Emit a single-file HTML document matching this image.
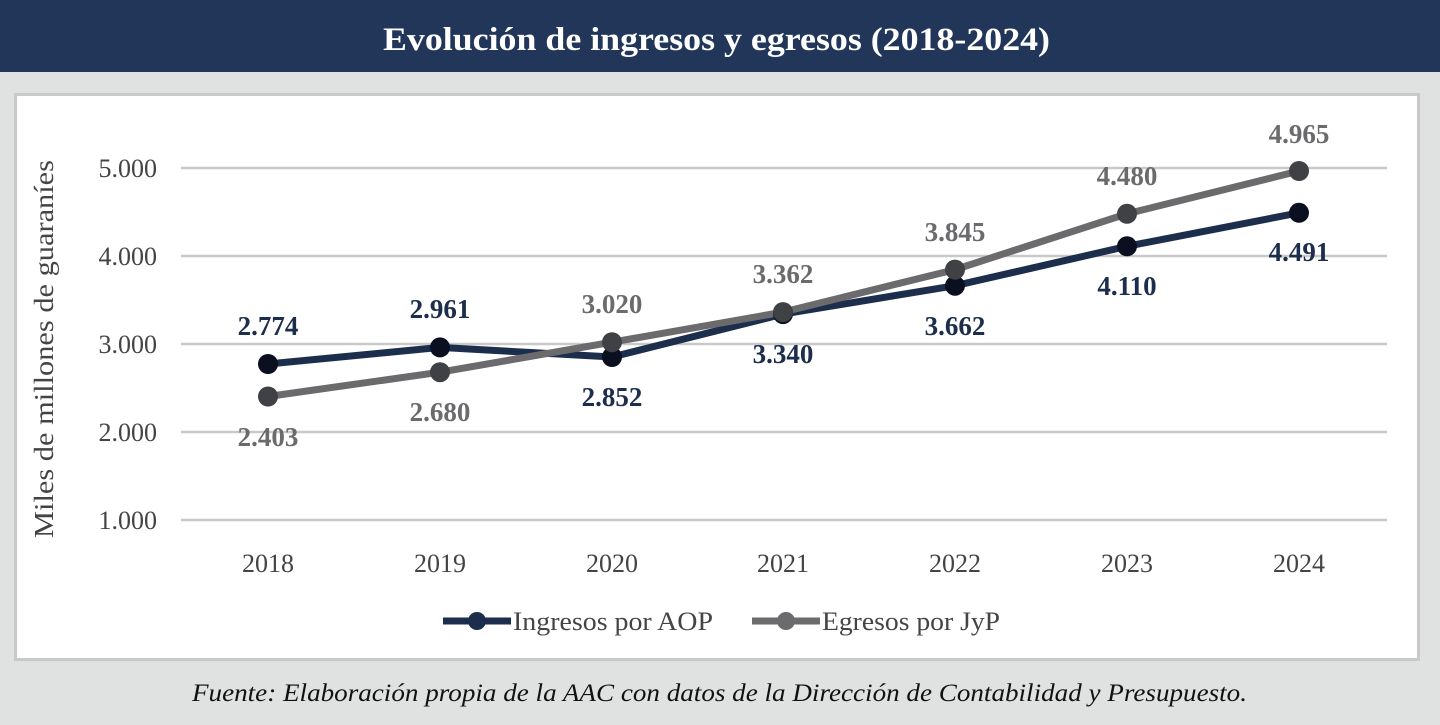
<!DOCTYPE html>
<html><head><meta charset="utf-8"><style>
html,body{margin:0;padding:0;width:1440px;height:725px;overflow:hidden;background:#e0e2e1;}
svg{display:block;font-family:"Liberation Serif",serif;}
</style></head><body>
<svg width="1440" height="725" viewBox="0 0 1440 725">
<rect x="0" y="0" width="1440" height="725" fill="#e0e2e1"/>
<rect x="0" y="0" width="1440" height="72" fill="#22365a"/>
<text x="383" y="50" font-size="33" font-weight="bold" fill="#fff" textLength="667" lengthAdjust="spacingAndGlyphs">Evolución de ingresos y egresos (2018-2024)</text>
<rect x="15.5" y="94.5" width="1403" height="565" fill="#fff" stroke="#c8c9c8" stroke-width="3"/>
<g stroke="#c9c9c9" stroke-width="2.5">
<line x1="181" y1="168" x2="1387" y2="168"/>
<line x1="181" y1="256" x2="1387" y2="256"/>
<line x1="181" y1="344" x2="1387" y2="344"/>
<line x1="181" y1="432" x2="1387" y2="432"/>
<line x1="181" y1="520" x2="1387" y2="520"/>
</g>
<g font-size="26" fill="#444" text-anchor="end">
<text x="157" y="177">5.000</text><text x="157" y="265">4.000</text><text x="157" y="353">3.000</text><text x="157" y="441">2.000</text><text x="157" y="529">1.000</text>
</g>
<text transform="translate(53,160) rotate(-90)" x="-378" y="0" font-size="27" fill="#444" textLength="378" lengthAdjust="spacingAndGlyphs">Miles de millones de guaraníes</text>
<g font-size="26" fill="#444" text-anchor="middle">
<text x="268" y="572">2018</text><text x="440" y="572">2019</text><text x="612" y="572">2020</text><text x="783" y="572">2021</text><text x="955" y="572">2022</text><text x="1127" y="572">2023</text><text x="1299" y="572">2024</text>
</g>
<polyline points="268,364 440,347.4 612,357 783,314.1 955,285.7 1127,246.3 1299,212.8" fill="none" stroke="#1c2e4c" stroke-width="7"/>
<polyline points="268,396.5 440,372.2 612,342.2 783,312.1 955,269.6 1127,213.8 1299,171" fill="none" stroke="#6b6b6e" stroke-width="7"/>
<g fill="#0a1020">
<circle cx="268" cy="364" r="10"/><circle cx="440" cy="347.4" r="10"/><circle cx="612" cy="357" r="10"/><circle cx="783" cy="314.1" r="10"/><circle cx="955" cy="285.7" r="10"/><circle cx="1127" cy="246.3" r="10"/><circle cx="1299" cy="212.8" r="10"/>
</g>
<g fill="#404145">
<circle cx="268" cy="396.5" r="10"/><circle cx="440" cy="372.2" r="10"/><circle cx="612" cy="342.2" r="10"/><circle cx="783" cy="312.1" r="10"/><circle cx="955" cy="269.6" r="10"/><circle cx="1127" cy="213.8" r="10"/><circle cx="1299" cy="171" r="10"/>
</g>
<g font-size="27" font-weight="bold" fill="#1c2e4c" text-anchor="middle">
<text x="268" y="335">2.774</text><text x="440" y="318">2.961</text><text x="612" y="406">2.852</text><text x="783" y="363">3.340</text><text x="955" y="335">3.662</text><text x="1127" y="295">4.110</text><text x="1299" y="261">4.491</text>
</g>
<g font-size="27" font-weight="bold" fill="#6b6b6e" text-anchor="middle">
<text x="268" y="446">2.403</text><text x="440" y="421">2.680</text><text x="612" y="313">3.020</text><text x="783" y="283">3.362</text><text x="955" y="241">3.845</text><text x="1127" y="185">4.480</text><text x="1299" y="143">4.965</text>
</g>
<line x1="443" y1="621" x2="511" y2="621" stroke="#1c2e4c" stroke-width="7"/>
<circle cx="477" cy="621" r="9" fill="#1c2e4c"/>
<text x="513" y="630" font-size="26" fill="#444" textLength="200" lengthAdjust="spacingAndGlyphs">Ingresos por AOP</text>
<line x1="752" y1="621" x2="820" y2="621" stroke="#6b6b6e" stroke-width="7"/>
<circle cx="786" cy="621" r="9" fill="#6b6b6e"/>
<text x="822" y="630" font-size="26" fill="#444" textLength="178" lengthAdjust="spacingAndGlyphs">Egresos por JyP</text>
<text x="192" y="701" font-size="25" font-style="italic" fill="#111" textLength="1055" lengthAdjust="spacingAndGlyphs">Fuente: Elaboración propia de la AAC con datos de la Dirección de Contabilidad y Presupuesto.</text>
</svg>
</body></html>
